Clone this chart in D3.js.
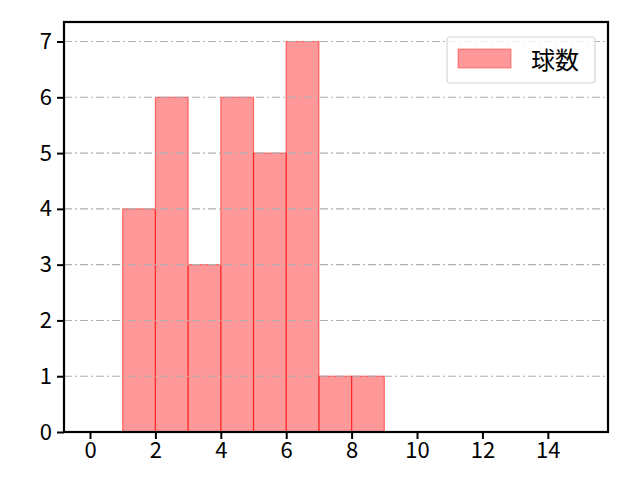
<!DOCTYPE html>
<html>
<head>
<meta charset="utf-8">
<script src="https://cdn.jsdelivr.net/npm/d3@7"></script>
<style>
  body { margin: 0; background: #fff; }
  text { font-family: "Noto Sans CJK JP", "Noto Sans", sans-serif; }
</style>
</head>
<body>
<div id="chart"></div>
<script>
// histogram bins (left edges) and counts
var binStarts = [1, 2, 3, 4, 5, 6, 7, 8];
var binWidth = 1;
var counts = [4, 6, 3, 6, 5, 7, 1, 1];
var xTicks = [0, 2, 4, 6, 8, 10, 12, 14];
var yTicks = [0, 1, 2, 3, 4, 5, 6, 7];
var seriesName = "球数";

var W = 640, H = 480;
var margin = { top: 22, right: 32, bottom: 48, left: 64 };
var width = W - margin.left - margin.right,
  height = H - margin.top - margin.bottom;

var svg = d3.select('#chart').append('svg')
  .attr('width', W)
  .attr('height', H)
  .append('g')
  .attr('transform', 'translate(' + margin.left + ',' + margin.top + ')');

var x = d3.scaleLinear().domain([-0.795, 15.84]).range([0, width]);
var y = d3.scaleLinear().domain([0, 7.35]).range([height, 0]);

// bars
svg.selectAll('.bar')
  .data(binStarts)
  .enter().append('rect')
  .attr('class', 'bar')
  .attr('x', function (d) { return x(d); })
  .attr('y', function (d, i) { return y(counts[i]); })
  .attr('width', function (d) { return x(d + binWidth) - x(d); })
  .attr('height', function (d, i) { return y(0) - y(counts[i]); })
  .attr('fill', 'rgba(255,0,0,0.4)')
  .attr('stroke', 'rgba(255,0,0,0.5)')
  .attr('stroke-width', 1.2);

// horizontal grid, drawn over the bars
svg.append('g')
  .selectAll('line')
  .data(yTicks)
  .enter().append('line')
  .attr('x1', 0)
  .attr('x2', width)
  .attr('y1', function (d) { return y(d); })
  .attr('y2', function (d) { return y(d); })
  .attr('stroke', '#b0b0b0')
  .attr('stroke-width', 1.1)
  .attr('stroke-dasharray', '8,3,2,3');

// axes
var xAxis = d3.axisBottom(x).tickValues(xTicks).tickSize(7).tickPadding(3);
var yAxis = d3.axisLeft(y).tickValues(yTicks).tickSize(7).tickPadding(5);

var gx = svg.append('g')
  .attr('transform', 'translate(0,' + height + ')')
  .call(xAxis);
var gy = svg.append('g').call(yAxis);

[gx, gy].forEach(function (g) {
  g.select('.domain').remove();
  g.selectAll('line').attr('stroke', '#000').attr('stroke-width', 2);
  g.selectAll('text').attr('fill', '#000').attr('font-size', null).style('font-size', '22px');
});

// frame
svg.append('rect')
  .attr('width', width)
  .attr('height', height)
  .attr('fill', 'none')
  .attr('stroke', '#000')
  .attr('stroke-width', 2.2);

// legend
var lg = svg.append('g').attr('transform', 'translate(' + (width - 161) + ',15)');
lg.append('rect')
  .attr('width', 148)
  .attr('height', 46)
  .attr('rx', 3)
  .attr('fill', 'rgba(255,255,255,0.8)')
  .attr('stroke', '#d6d6d6')
  .attr('stroke-width', 1.2);
lg.append('rect')
  .attr('x', 11)
  .attr('y', 12)
  .attr('width', 53)
  .attr('height', 19)
  .attr('fill', 'rgba(255,0,0,0.4)')
  .attr('stroke', 'rgba(255,0,0,0.4)');
lg.append('text')
  .attr('x', 84)
  .attr('y', 32)
  .style('font-size', '24px')
  .text(seriesName);
</script>
</body>
</html>
